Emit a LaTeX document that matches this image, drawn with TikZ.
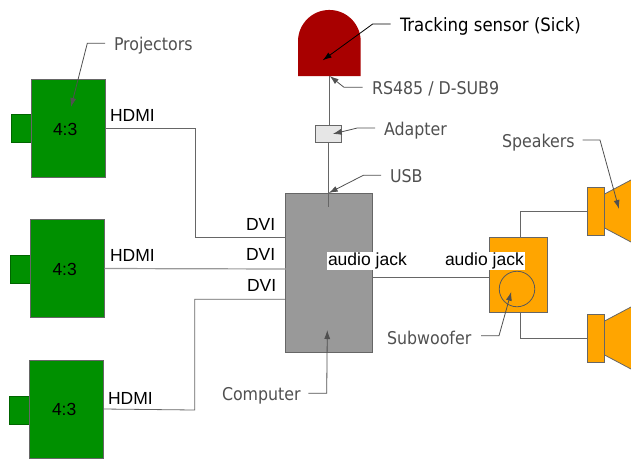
\documentclass[tikz,border=0pt]{standalone}
\usepackage{fontspec}
\setmainfont{Liberation Sans}
\newfontfamily\notefont{DejaVu Sans Condensed}
\usetikzlibrary{arrows.meta}
\definecolor{projgreen}{HTML}{009000}
\definecolor{speakorange}{HTML}{FFA500}
\definecolor{sensorred}{HTML}{A80000}
\definecolor{compgrey}{HTML}{999999}
\definecolor{adaptgrey}{HTML}{E6E6E6}
\definecolor{notegrey}{HTML}{505050}

\begin{document}
\begin{tikzpicture}[x=1pt, y=-1pt, line width=0.8pt]
        \useasboundingbox (0,0) rectangle (631,459);
        \tikzstyle{every node}=[inner sep=0pt, outer sep=0pt]
        \tikzstyle{box}=[draw=black!60, rectangle]
        \tikzstyle{projector}=[box, fill=projgreen, minimum width=74pt, minimum height=98pt]
        \tikzstyle{lens}=[draw=projgreen!70!black, rectangle, fill=projgreen, minimum width=20pt, minimum height=28pt]
        \tikzstyle{speaker}=[box, fill=speakorange, minimum width=17pt, minimum height=48pt]
        \tikzstyle{wire}=[draw=black!60]
        \tikzstyle{note}=[draw=black!45, -{Latex[length=9pt, width=6pt]}, color=notegrey]
        \tikzstyle{sig}=[anchor=base west, font=\fontsize{17.5pt}{20pt}\selectfont]
        \tikzstyle{lab}=[anchor=base west, text=notegrey, font=\notefont\fontsize{17.6pt}{20pt}\selectfont]
        \tikzstyle{jack}=[sig, fill=white, inner xsep=1pt, text height=13.5pt, text depth=5pt]

        % projectors
        \node at (21, 128) [lens] (lens1) {};
        \node at (20, 269) [lens] (lens2) {};
        \node at (19, 410) [lens] (lens3) {};
        \node at (68, 128) [projector] (proj1) {};
        \node at (67.5, 268.5) [projector] (proj2) {};
        \node at (66.5, 409) [projector] (proj3) {};
        \node at (53, 135.7) [sig] (ratio1) {4:3};
        \node at (52.5, 275) [sig] (ratio2) {4:3};
        \node at (52, 415.7) [sig] (ratio3) {4:3};

        % computer and sensor
        \node at (329, 272.5) [box, fill=compgrey, minimum width=86.5pt, minimum height=159pt] (comp) {};
        \fill[sensorred] (298, 76) -- (298, 41.3) arc (180:0:31.35 and -31.35) -- (360.7, 76) -- cycle;
        \coordinate (sensor) at (329.7, 76);
        \node at (328.2, 134) [box, fill=adaptgrey, minimum width=26.5pt, minimum height=16.5pt] (adapter) {};
        \coordinate (usb) at (328.7, 207.3);

        % subwoofer and speakers
        \node at (518, 275) [box, fill=speakorange, minimum width=58pt, minimum height=74.5pt] (sub) {};
        \node at (517, 289) [circle, draw=black!65, minimum size=35.5pt] (woofer) {};
        \foreach \y/\name in {211/spk1, 338/spk2} {
            \fill[speakorange, draw=black!60] (631, \y-31) -- (604, \y-16.7) -- (604, \y+16.7) -- (631, \y+31);
            \node at (595.5, \y) [speaker] (\name) {};
        }

        % wires
        \draw[wire] (sensor) -- (sensor |- adapter.north);
        \draw[wire] (adapter.south -| usb) -- (usb);
        \draw[wire] (proj1.east) -- (195, 128) |- (comp.west |- 0, 237);
        \draw[wire, draw=black!40, line width=1.2pt] (proj2.east) -- (comp.west |- 0, 269);
        \draw[wire] (proj3.east) -- (194.7, 410) |- (comp.west |- 0, 299.3);
        \draw[wire] (comp.east |- 0, 277) -- (sub.west |- 0, 277);
        \draw[wire] (520.3, 237.7) |- (spk1.west);
        \draw[wire] (520.3, 312.3) |- (spk2.west);

        % signal labels
        \node at (110, 121.7) [sig] (hdmi1) {HDMI};
        \node at (110, 261.7) [sig] (hdmi2) {HDMI};
        \node at (108, 404.3) [sig] (hdmi3) {HDMI};
        \node at (246, 230) [sig] (dvi1) {DVI};
        \node at (246, 260.7) [sig] (dvi2) {DVI};
        \node at (247, 291.7) [sig] (dvi3) {DVI};
        \node at (327, 265) [jack] (jack1) {audio jack};
        \node at (444, 265) [jack] (jack2) {audio jack};

        % callouts
        \node at (114, 50.7) [lab] (projectors) {Projectors};
        \node at (400, 31.7) [lab, text=black, font=\notefont\fontsize{18.4pt}{20pt}\selectfont] (tracking) {Tracking sensor (Sick)};
        \node at (372, 94) [lab] (rs485) {RS485 / D-SUB9};
        \node at (384, 135) [lab] (adapterlab) {Adapter};
        \node at (390, 182.7) [lab] (usblab) {USB};
        \node at (502, 147.7) [lab] (speakers) {Speakers};
        \node at (387, 344) [lab] (subwoofer) {Subwoofer};
        \node at (222, 400.7) [lab] (computer) {Computer};

        \draw[note] (105, 43.3) -- (87.3, 43.3) -- (71, 107);
        \draw[note, draw=black, color=black] (390.7, 24) -- (372.7, 24) -- (322.7, 60.3);
        \draw[note] (362.7, 87.3) -- (344, 87.3) -- (sensor);
        \draw[note] (375, 128) -- (357.3, 128) -- (332.7, 134);
        \draw[note] (381, 175.3) -- (363.3, 175.3) -- (328.7, 193);
        \draw[note] (582.7, 140) -- (600, 140) -- (619, 209);
        \draw[note] (481, 335.7) -- (499, 335.7) -- (511.3, 291.7);
        \draw[note] (308.3, 393.3) -- (326.7, 393.3) -- (327.3, 330);
\end{tikzpicture}
\end{document}
